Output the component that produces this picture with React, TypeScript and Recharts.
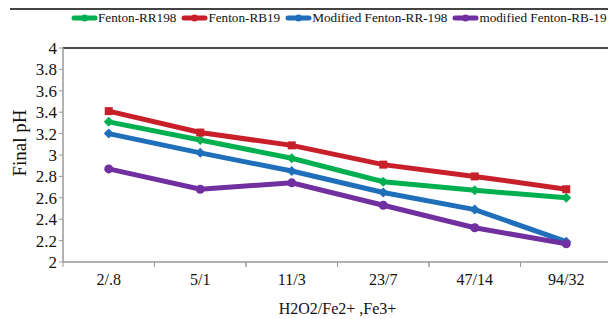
import { LineChart, Line, XAxis, YAxis, Legend, ReferenceArea } from "recharts"

const categories = ["2/.8", "5/1", "11/3", "23/7", "47/14", "94/32"]
const fentonRR198 = [3.31, 3.14, 2.97, 2.75, 2.67, 2.6]
const fentonRB19 = [3.41, 3.21, 3.09, 2.91, 2.8, 2.68]
const modFentonRR198 = [3.2, 3.02, 2.85, 2.65, 2.49, 2.19]
const modFentonRB19 = [2.87, 2.68, 2.74, 2.53, 2.32, 2.17]
const yTicks = [2, 2.2, 2.4, 2.6, 2.8, 3, 3.2, 3.4, 3.6, 3.8, 4]

const data = categories.map((c, i) => ({
  cat: c,
  a: fentonRR198[i],
  b: fentonRB19[i],
  c2: modFentonRR198[i],
  d: modFentonRB19[i],
}))

const series = [
  { key: "a", name: "Fenton-RR198", color: "#00b050", shape: "diamond" },
  { key: "b", name: "Fenton-RB19", color: "#c8202a", shape: "square" },
  { key: "c2", name: "Modified Fenton-RR-198", color: "#1f6fba", shape: "diamond" },
  { key: "d", name: "modified Fenton-RB-19", color: "#7030a0", shape: "circle" },
]

const FONT = "'Liberation Serif', 'DejaVu Serif', serif"
const BAND = 549 / 6

function Marker(props: any) {
  const { cx, cy, fill, shape } = props
  if (cx == null || cy == null) return null
  if (shape === "square") return <rect x={cx - 4} y={cy - 4} width={8} height={8} fill={fill} />
  if (shape === "circle") return <circle cx={cx} cy={cy} r={4.5} fill={fill} />
  return <polygon points={`${cx},${cy - 5} ${cx + 5},${cy} ${cx},${cy + 5} ${cx - 5},${cy}`} fill={fill} />
}

function XTick(props: any) {
  const { x, y, payload } = props
  const half = BAND / 2
  return (
    <g>
      <line x1={x - half} y1={y - 8} x2={x - half} y2={y - 3} stroke="#999" />
      <line x1={x + half} y1={y - 8} x2={x + half} y2={y - 3} stroke="#999" />
      <text x={x} y={y + 15} textAnchor="middle" fontSize={16} fill="#111" fontFamily={FONT}>
        {payload.value}
      </text>
    </g>
  )
}

function YLabel() {
  const x = 18
  const y = 135
  return (
    <text x={x} y={y} transform={`rotate(-90 ${x} ${y})`} textAnchor="middle" fontSize={19} fill="#111" fontFamily={FONT}>
      Final pH
    </text>
  )
}

function XLabel(props: any) {
  const vb = props.viewBox
  return (
    <text x={vb.x + vb.width / 2} y={vb.y + 52} textAnchor="middle" fontSize={16} fill="#111" fontFamily={FONT}>
      H2O2/Fe2+ ,Fe3+
    </text>
  )
}

// top + right edges of the plot frame (left/bottom are the grey axes)
function Frame(props: any) {
  const { x, y, width, height } = props
  return <path d={`M${x},${y}H${x + width}V${y + height}`} fill="none" stroke="#111" strokeWidth={1.5} />
}

// legend row, with the figure's dark rule above it
function LegendContent() {
  return (
    <div style={{ borderTop: "2px solid #444", paddingLeft: 61 }}>
      <div style={{ display: "flex", fontFamily: FONT, fontSize: 13.2, color: "#111", whiteSpace: "nowrap", lineHeight: "16px" }}>
        {series.map((s, i) => (
          <span key={s.key} style={{ display: "flex", alignItems: "center", marginLeft: i === 0 ? 0 : 5 }}>
            <svg width={27} height={10}>
              <line x1={3} y1={5} x2={24} y2={5} stroke={s.color} strokeWidth={5} strokeLinecap="round" />
              <circle cx={13.5} cy={5} r={3.5} fill={s.color} />
            </svg>
            {s.name}
          </span>
        ))}
      </div>
    </div>
  )
}

export default function App() {
  return (
    <LineChart width={608} height={311} data={data} margin={{ top: 22, right: 4, left: 0, bottom: 0 }}>
      <Legend verticalAlign="top" align="left" content={<LegendContent />} wrapperStyle={{ top: 0, left: 2, width: 606 }} />
      <XAxis
        dataKey="cat"
        height={57}
        padding={{ left: BAND / 2, right: BAND / 2 }}
        axisLine={{ stroke: "#999", strokeWidth: 1.5 }}
        tickLine={false}
        tick={<XTick />}
        interval={0}
        label={<XLabel />}
      />
      {/* hidden index axis spanning the whole plot width, used for the frame */}
      <XAxis xAxisId="frame" type="number" domain={[0, categories.length - 1]} hide />
      <YAxis
        yAxisId="left"
        width={55}
        domain={[2, 4]}
        ticks={yTicks}
        interval={0}
        tickFormatter={(v: number) => String(v)}
        axisLine={{ stroke: "#999", strokeWidth: 1.5 }}
        tickLine={{ stroke: "#999" }}
        tickSize={4}
        tick={{ fontSize: 17, fill: "#111", fontFamily: FONT }}
        label={<YLabel />}
      />
      <ReferenceArea
        xAxisId="frame"
        yAxisId="left"
        x1={0}
        x2={categories.length - 1}
        y1={2}
        y2={4}
        shape={<Frame />}
        ifOverflow="visible"
      />
      {series.map((s) => (
        <Line
          key={s.key}
          yAxisId="left"
          dataKey={s.key}
          name={s.name}
          stroke={s.color}
          strokeWidth={5}
          dot={(p: any) => <Marker key={`${s.key}-${p.index}`} {...p} fill={s.color} shape={s.shape} />}
          activeDot={false}
          isAnimationActive={false}
        />
      ))}
    </LineChart>
  )
}
